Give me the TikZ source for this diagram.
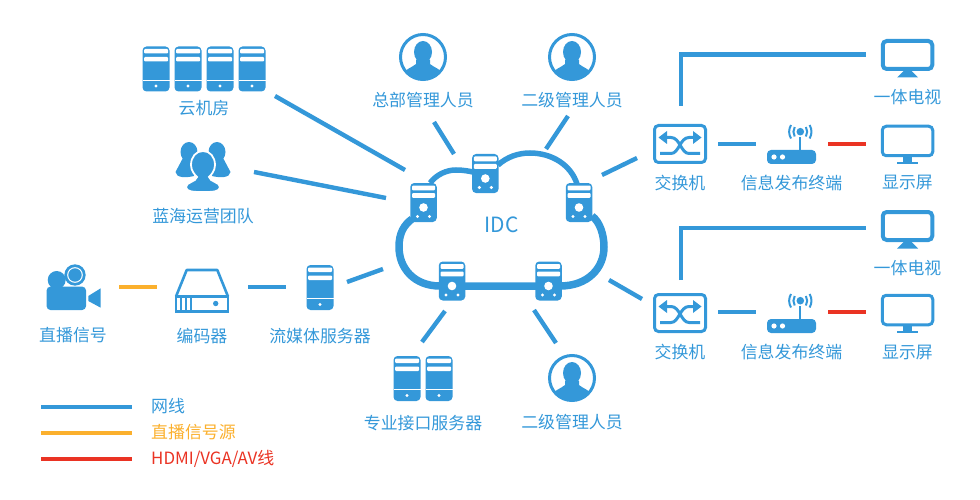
\documentclass[tikz,border=0pt]{standalone}
\usepackage{fontspec}
\setmainfont{Noto Sans CJK SC}
\usetikzlibrary{calc,backgrounds}
\definecolor{netblue}{RGB}{52,152,217}
\definecolor{liveorange}{RGB}{251,176,45}
\definecolor{hdmired}{RGB}{234,51,35}
\tikzset{
  lbl/.style={text=netblue,inner sep=0pt,font=\fontsize{16.9}{18}\selectfont},
  wire/.style={draw=netblue,line width=4.4pt},
  livewire/.style={draw=liveorange,line width=4.4pt},
  hdmiwire/.style={draw=hdmired,line width=4.4pt},
  solidbox/.style={fill=netblue,inner sep=0pt,rounded corners=4pt},
  framebox/.style={draw=netblue,fill=white,inner sep=0pt,rounded corners=4pt},
}
% tall server with a thin line and one dot
\newcommand{\rackserver}[3]{
\begin{scope}[shift={(#2,#3)}]
\node[solidbox,minimum width=27pt,minimum height=45pt] (#1) at (0,0) {};
\fill[white,rounded corners=1pt] (-12,-20) rectangle (12,-15.5);
\fill[white,rounded corners=1pt] (-12,-12) rectangle (12,-7.5);
\fill[white] (-13.5,10.6) rectangle (13.5,11.3);
\fill[white] (0,17) circle (1.7pt);
\end{scope}}
% small server sitting on the cloud
\newcommand{\cloudserver}[3]{
\begin{scope}[shift={(#2,#3)}]
\node[solidbox,minimum width=26.5pt,minimum height=39pt] (#1) at (0,0) {};
\fill[white,rounded corners=1pt] (-11.5,-17) rectangle (11.5,-12.2);
\fill[white,rounded corners=1pt] (-11.5,-9.5) rectangle (11.5,-4.6);
\fill[white] (0,5) circle (4.3pt);
\fill[white] (-6,14) circle (1.7pt);
\fill[white] (6,14) circle (1.7pt);
\end{scope}}
% person in a ring
\newcommand{\manager}[3]{
\begin{scope}[shift={(#2,#3)}]
\node[circle,draw=netblue,line width=3pt,minimum size=45pt,inner sep=0pt] (#1) at (0,0) {};
\begin{scope}
\clip (0,0) circle (22.4pt);
\fill[netblue] (0,-5) ellipse (9pt and 11pt);
\fill[netblue] (-7,3) -- (-7,7) .. controls (-10,10.5) and (-20,11) .. (-21,23) -- (21,23)
  .. controls (20,11) and (10,10.5) .. (7,7) -- (7,3) -- cycle;
\end{scope}
\end{scope}}
\newcommand{\switchbox}[3]{
\begin{scope}[shift={(#2,#3)}]
\node[framebox,line width=3pt,minimum width=51pt,minimum height=37pt] (#1) at (0,0) {};
\draw[netblue,line width=3pt] (-20,9.5) -- (-9,9.5) .. controls (-1,9.5) and (0,-6.5) .. (9,-6.5) -- (15,-6.5);
\draw[netblue,line width=3pt] (20,9.5) -- (9,9.5) .. controls (1,9.5) and (0,-6.5) .. (-9,-6.5) -- (-15,-6.5);
\fill[netblue] (13,-13) -- (21.5,-6.5) -- (13,0) -- cycle;
\fill[netblue] (-13,-13) -- (-21.5,-6.5) -- (-13,0) -- cycle;
\end{scope}}
\newcommand{\router}[3]{
\begin{scope}[shift={(#2,#3)}]
\node[solidbox,minimum width=49pt,minimum height=14pt] (#1) at (0,0) {};
\fill[white] (-17.5,0) circle (2.6pt);
\fill[white] (-9,0) circle (2.6pt);
\fill[netblue] (7.8,-7) rectangle (9.8,-20);
\fill[netblue] (8.8,-25.3) circle (3.8pt);
\draw[netblue,line width=2pt] (3.2,-30) .. controls (1.5,-27) and (1.5,-23.5) .. (3.2,-20.5);
\draw[netblue,line width=2pt] (14.4,-30) .. controls (16.1,-27) and (16.1,-23.5) .. (14.4,-20.5);
\draw[netblue,line width=2pt] (-0.5,-32) .. controls (-3,-27.5) and (-3,-23) .. (-0.5,-18.5);
\draw[netblue,line width=2pt] (18.1,-32) .. controls (20.6,-27.5) and (20.6,-23) .. (18.1,-18.5);
\end{scope}}
\newcommand{\tvset}[3]{
\begin{scope}[shift={(#2,#3)}]
\node[framebox,line width=4pt,minimum width=49.5pt,minimum height=28pt] (#1) at (0,0) {};
\fill[netblue] (-4,16) -- (4,16) -- (10.5,22.5) -- (-10.5,22.5) -- cycle;
\end{scope}}
\newcommand{\screenset}[3]{
\begin{scope}[shift={(#2,#3)}]
\node[framebox,line width=3pt,minimum width=50.5pt,minimum height=29.5pt] (#1) at (0,0) {};
\fill[netblue] (-4.5,16) rectangle (4.5,21);
\fill[netblue] (-10.5,20.8) rectangle (10.5,23);
\end{scope}}
\begin{document}
\begin{tikzpicture}[x=1pt,y=-1pt]
\useasboundingbox (0,0) rectangle (980,500);
%cloud servers
\cloudserver{srvleft}{423.5}{202.5}
\cloudserver{srvtop}{485.3}{173.5}
\cloudserver{srvright}{579}{202.5}
\cloudserver{srvlow}{452}{281}
\cloudserver{srvhigh}{548.5}{281}
\begin{scope}[on background layer]
\draw[netblue,line width=7.5pt] (412,219) .. controls (404,225) and (399,233) .. (399,247)
  .. controls (399,268) and (414,286) .. (440,286) -- (560,286)
  .. controls (588,286) and (604,268) .. (604,247) .. controls (604,235) and (600,222) .. (592,216);
\draw[netblue,line width=5.5pt] (430,183) .. controls (437,174) and (447,170) .. (456,170)
  .. controls (463,170) and (468,171) .. (473,172);
\draw[netblue,line width=5.5pt] (498,165) .. controls (507,157) and (518,153) .. (530,153)
  .. controls (552,153) and (571,165) .. (577,184);
\end{scope}
\node[lbl,font=\fontsize{21}{23}\selectfont] (idc) at (501.5,225) {IDC};
%top left
\rackserver{yuna}{156}{69}
\rackserver{yunb}{188}{69}
\rackserver{yunc}{220}{69}
\rackserver{yund}{252}{69}
\node[lbl] (yunlbl) at (204,108) {云机房};
\node[inner sep=0pt,minimum width=56pt,minimum height=50pt] (team) at (203,167) {};
\fill[netblue] (189,152) ellipse (8.5pt and 10pt);
\fill[netblue] (217,152) ellipse (8.5pt and 10pt);
\fill[netblue] (184,156) -- (175.5,172) .. controls (176,178) and (186,178) .. (194,176) -- (198,158) -- cycle;
\fill[netblue] (222,156) -- (230.5,172) .. controls (230,178) and (220,178) .. (212,176) -- (208,158) -- cycle;
\fill[netblue,draw=white,line width=1.8pt] (203,151) .. controls (196,151) and (191,157) .. (191,165)
  .. controls (191,171) and (195,175) .. (197,177) .. controls (196,182) and (186,182) .. (186,187)
  .. controls (186,192) and (194,192) .. (203,192) .. controls (212,192) and (220,192) .. (220,187)
  .. controls (220,182) and (210,182) .. (209,177) .. controls (211,175) and (215,171) .. (215,165)
  .. controls (215,157) and (210,151) .. (203,151) -- cycle;
\node[lbl] (teamlbl) at (203,216) {蓝海运营团队};
%managers
\manager{mgra}{423}{57}
\node[lbl] (mgralbl) at (423,100) {总部管理人员};
\manager{mgrb}{572}{57}
\node[lbl] (mgrblbl) at (572,100) {二级管理人员};
\manager{mgrc}{572}{378}
\node[lbl] (mgrclbl) at (572,422) {二级管理人员};
%api servers
\rackserver{apia}{407}{378.5}
\rackserver{apib}{439}{378.5}
\node[lbl] (apilbl) at (423,423) {专业接口服务器};
%camera
\fill[netblue] (56.7,280) circle (9pt);
\node[solidbox,minimum width=39.5pt,minimum height=23.5pt] (cam) at (66.3,298.3) {};
\fill[netblue] (75,275) circle (10.7pt);
\draw[white,line width=1pt] (75,275) circle (7.3pt);
\fill[netblue] (88.3,296) -- (100.7,288.3) -- (100.7,307.7) -- (88.3,301) -- cycle;
\node[lbl] (camlbl) at (73,335) {直播信号};
%encoder
\node[draw=netblue,line width=2.6pt,inner sep=0pt,minimum width=52pt,minimum height=15pt] (enc) at (202,304) {};
\draw[netblue,line width=2.6pt,line join=round] (176,296.5) -- (186.7,270) -- (217.3,270) -- (228,296.5);
\fill[netblue] (180,297) rectangle (182,311);
\fill[netblue] (185,297) rectangle (187,311);
\fill[netblue] (190,297) rectangle (192,311);
\fill[netblue] (215.7,303.5) circle (2.7pt);
\node[lbl] (enclbl) at (202,336) {编码器};
\rackserver{stream}{320}{287.5}
\node[lbl] (streamlbl) at (320,336) {流媒体服务器};
%right side
\switchbox{swa}{680}{144}
\node[lbl] (swalbl) at (680,183) {交换机};
\router{infoa}{791.5}{157}
\node[lbl] (infoalbl) at (791.5,183) {信息发布终端};
\tvset{tva}{907.5}{55}
\node[lbl] (tvalbl) at (907.5,97) {一体电视};
\screenset{scra}{907.5}{141}
\node[lbl] (scralbl) at (907.5,183) {显示屏};
\switchbox{swb}{680}{313}
\node[lbl] (swblbl) at (680,352) {交换机};
\router{infob}{791.5}{326}
\node[lbl] (infoblbl) at (791.5,352) {信息发布终端};
\tvset{tvb}{907.5}{226}
\node[lbl] (tvblbl) at (907.5,268) {一体电视};
\screenset{scrb}{907.5}{310}
\node[lbl] (scrblbl) at (907.5,352) {显示屏};
%connectors
\draw[wire] ($(yund)+(23,27)$) -- ($(srvleft)+(-18.5,-32.5)$);
\draw[wire] ($(team)+(51,5)$) -- ($(srvleft)+(-37.5,-4.5)$);
\draw[wire] ($(mgra)+(11,65)$) -- ($(srvtop)+(-31.3,-19.5)$);
\draw[wire] ($(mgrb)+(-4,59)$) -- ($(srvtop)+(60.7,-24.5)$);
\draw[wire] ($(swa)+(-43,14)$) -- ($(srvright)+(23,-27.5)$);
\draw[wire] ($(swb)+(-38,-14)$) -- ($(srvhigh)+(60.5,-1)$);
\draw[wire] ($(srvlow)+(-7,30)$) -- ($(apib)+(-17,-36.5)$);
\draw[wire] ($(srvhigh)+(-14.5,29)$) -- ($(mgrc)+(-16,-35)$);
\draw[wire] ($(stream)+(27,-5.5)$) -- ($(srvlow)+(-69,-12)$);
\draw[wire] ($(enc)+(46,-17)$) -- ($(stream)+(-34,-0.5)$);
\draw[livewire] ($(cam)+(52.7,-11.3)$) -- ($(enc)+(-45,-17)$);
\draw[wire] ($(swa)+(38,0)$) -- ($(infoa)+(-35.5,-13)$);
\draw[hdmiwire] ($(infoa)+(36.5,-13)$) -- ($(scra)+(-41.5,3)$);
\draw[wire] ($(swb)+(38,-1)$) -- ($(infob)+(-35.5,-14)$);
\draw[hdmiwire] ($(infob)+(36.5,-14)$) -- ($(scrb)+(-41.5,2)$);
\draw[wire] ($(swa)+(1,-38)$) |- ($(tva)+(-41.5,-0.5)$);
\draw[wire] ($(swb)+(1,-33)$) |- ($(tvb)+(-41.5,2)$);
%legend
\node[lbl,anchor=west,text=netblue] (legnet) at (151,406) {网线};
\node[lbl,anchor=west,text=liveorange] (leglive) at (151,432.5) {直播信号源};
\node[lbl,anchor=west,text=hdmired] (leghdmi) at (151,458.5) {HDMI/VGA/AV线};
\draw[wire] (41,407) -- (132,407);
\draw[livewire] (41,433) -- (132,433);
\draw[hdmiwire] (41,459) -- (132,459);
\end{tikzpicture}
\end{document}
